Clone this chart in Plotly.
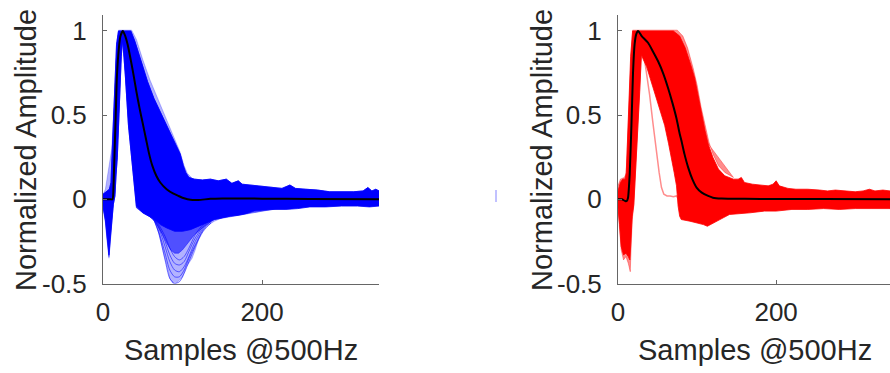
import plotly.graph_objects as go

# ---------------- data ----------------
# Left panel (blue): envelope of the waveform bundle, in samples @500Hz
L_up_outer_x = [0, 3, 5, 7, 9, 10, 11, 12, 14, 16, 18, 19.5, 36, 42, 50, 59, 68, 80, 90, 97, 102, 106, 110]
L_up_outer_y = [0.03, 0.06, 0.12, 0.18, 0.23, 0.25, 0.3, 0.38, 0.6, 0.8, 0.95, 1.005, 1.005, 0.95, 0.83, 0.71, 0.61, 0.47, 0.36, 0.28, 0.2, 0.155, 0.135]
L_up_x = [0, 3, 8, 10, 11.5, 13, 15, 17, 19.5, 35, 40, 48, 56, 64, 74, 84, 92, 97, 101, 104, 108, 115, 125, 135, 145,
          155, 162, 170, 175, 185, 195, 205, 215, 225, 235, 242, 255, 270, 285, 300, 315, 327, 333, 338, 343, 347]
L_up_y = [0.03, 0.04, 0.06, 0.1, 0.3, 0.5, 0.75, 0.92, 1.0, 1.0, 0.94, 0.82, 0.7, 0.6, 0.5, 0.4, 0.32, 0.27, 0.2, 0.16, 0.13, 0.12, 0.115, 0.12, 0.11,
          0.12, 0.095, 0.11, 0.09, 0.085, 0.08, 0.075, 0.07, 0.065, 0.085, 0.065, 0.06, 0.055, 0.045, 0.045, 0.045, 0.05, 0.07, 0.05, 0.06, 0.05]
L_lo_x = [0, 3, 5, 7.5, 9, 11, 13, 15, 16.5, 18, 20, 21.5, 23, 24.7, 26, 28, 32, 36, 38, 42, 50, 58, 65, 72, 80, 90, 100,
          110, 120, 130, 140, 150, 160, 170, 180, 190, 200, 215, 230, 245, 260, 280, 300, 320, 335, 347]
L_lo_y = [-0.04, -0.12, -0.22, -0.33, -0.24, -0.12, -0.03, 0.02, 0.15, 0.25, 0.45, 0.64, 0.85, 0.95, 0.86, 0.74, 0.44, 0.25, 0.15, -0.04, -0.08, -0.1, -0.12, -0.15, -0.17, -0.19, -0.19,
          -0.18, -0.16, -0.14, -0.12, -0.11, -0.1, -0.095, -0.085, -0.07, -0.065, -0.06, -0.06, -0.055, -0.045, -0.045, -0.04, -0.04, -0.045, -0.04]
L_lo_mid_x = [0, 3, 5, 7.5, 9, 11, 13, 15, 16.5, 18, 20, 21.5, 23, 24.7, 26, 28, 32, 36, 38, 42, 50, 58, 65, 70, 75, 80,
              85, 90, 95, 100, 105, 110, 115, 120, 130, 140, 150]
L_lo_mid_y = [-0.05, -0.13, -0.23, -0.34, -0.25, -0.13, -0.03, 0.02, 0.15, 0.25, 0.45, 0.64, 0.85, 0.95, 0.86, 0.74, 0.44, 0.25, 0.15, -0.05, -0.08, -0.1, -0.13, -0.17, -0.21, -0.26,
              -0.3, -0.32, -0.32, -0.3, -0.27, -0.24, -0.21, -0.19, -0.15, -0.12, -0.11]
L_lo_outer_x = [0, 3, 5, 7.5, 9, 11, 13, 15, 16.5, 18, 20, 21.5, 23, 24.7, 26, 28, 32, 36, 38, 42, 50, 58, 65, 70, 75, 80, 84,
                88, 92, 96, 100, 105, 112, 116, 120, 124, 130, 140, 150]
L_lo_outer_y = [-0.05, -0.14, -0.24, -0.35, -0.26, -0.14, -0.03, 0.02, 0.15, 0.25, 0.45, 0.64, 0.85, 0.95, 0.86, 0.74, 0.44, 0.25, 0.15, -0.05, -0.08, -0.1, -0.13, -0.2, -0.3, -0.39, -0.47,
                -0.5, -0.5, -0.48, -0.46, -0.4, -0.35, -0.3, -0.24, -0.2, -0.16, -0.13, -0.11]
# individual deep traces visible in the lower "bowl" of the left panel
L_bowl_x = [62, 70, 78, 84, 90, 96, 102, 108, 116, 126, 136]
L_bowl_y = [
    [-0.1, -0.2, -0.36, -0.47, -0.5, -0.49, -0.44, -0.37, -0.28, -0.19, -0.14],
    [-0.1, -0.19, -0.32, -0.42, -0.46, -0.46, -0.42, -0.35, -0.27, -0.18, -0.13],
    [-0.1, -0.17, -0.28, -0.37, -0.42, -0.43, -0.4, -0.34, -0.25, -0.17, -0.13],
    [-0.1, -0.16, -0.25, -0.33, -0.38, -0.39, -0.37, -0.31, -0.23, -0.16, -0.12],
    [-0.1, -0.15, -0.22, -0.29, -0.34, -0.36, -0.34, -0.29, -0.21, -0.15, -0.12],
]
L_mean_x = [0, 10, 12, 13, 14, 16, 17.5, 20, 22, 25, 28, 31, 34, 38, 42, 46, 50, 54, 58, 62, 67, 72, 80, 88, 95, 102,
            110, 120, 135, 150, 200, 260, 347]
L_mean_y = [0, 0, 0.0, 0.05, 0.2, 0.5, 0.73, 0.9, 0.97, 1.0, 0.97, 0.92, 0.85, 0.75, 0.64, 0.54, 0.45, 0.36, 0.27, 0.2, 0.14, 0.1, 0.06, 0.035, 0.02, 0.006,
            -0.003, -0.004, 0.003, 0.005, 0.004, 0.002, 0.0]

# Right panel (red)
R_up_outer_x = [0, 3, 8, 10, 11, 12.7, 15, 17, 18.5, 75, 82, 88, 95, 100, 105, 110, 115, 120, 127, 135, 146]
R_up_outer_y = [0.08, 0.12, 0.13, 0.15, 0.22, 0.44, 0.72, 0.9, 1.005, 1.005, 0.97, 0.9, 0.78, 0.68, 0.55, 0.44, 0.34, 0.27, 0.2, 0.16, 0.13]
R_up_x = [0, 3, 6, 9, 10.5, 12, 14, 16, 18.5, 70, 78, 85, 92, 97, 102, 106, 110, 114, 120, 127, 135, 146, 152, 156, 160,
          170, 180, 190, 196, 200, 204, 215, 225, 240, 255, 265, 275, 290, 300, 310, 318, 325, 335, 344]
R_up_y = [0.05, 0.1, 0.12, 0.12, 0.16, 0.35, 0.62, 0.85, 1.0, 1.0, 0.97, 0.9, 0.8, 0.72, 0.6, 0.5, 0.41, 0.33, 0.25, 0.18, 0.14, 0.12, 0.12, 0.13, 0.1,
          0.09, 0.085, 0.08, 0.09, 0.11, 0.08, 0.065, 0.06, 0.06, 0.055, 0.05, 0.055, 0.05, 0.045, 0.05, 0.06, 0.05, 0.055, 0.05]
R_lo_x = [0, 2, 4, 7, 10, 13, 15, 16.5, 18, 20, 21, 23.3, 25.5, 27.5, 29.6, 32, 36, 41, 46.5, 52, 59, 64, 67.7, 71, 74, 76, 78,
          80, 91, 100, 108, 113, 118, 125, 133, 141, 150, 167, 185, 200, 220, 240, 260, 280, 300, 320, 344]
R_lo_y = [-0.05, -0.15, -0.28, -0.33, -0.32, -0.34, -0.36, -0.25, -0.1, -0.03, 0.05, 0.25, 0.47, 0.64, 0.86, 0.83, 0.79, 0.72, 0.64, 0.55, 0.44, 0.33, 0.25, 0.16, 0.08, -0.04, -0.1,
          -0.12, -0.13, -0.14, -0.15, -0.16, -0.15, -0.13, -0.11, -0.09, -0.085, -0.08, -0.07, -0.07, -0.06, -0.06, -0.055, -0.06, -0.055, -0.055, -0.055]
R_lo_outer_x = [0, 2, 4, 7, 10, 13, 15.5, 16.5, 18, 20, 21, 23.3, 25.5, 27.5, 29.6]
R_lo_outer_y = [-0.06, -0.18, -0.3, -0.36, -0.34, -0.38, -0.43, -0.3, -0.12, -0.04, 0.05, 0.25, 0.47, 0.64, 0.86]
R_out_x = [26, 28, 32, 36, 40, 44, 48, 52, 55, 58, 62, 66, 70, 74, 77]
R_out_y = [0.95, 0.97, 0.88, 0.76, 0.62, 0.46, 0.3, 0.16, 0.07, 0.03, 0.02, 0.02, 0.015, 0.02, 0.0]
R_mean_x = [0, 5, 9, 11, 12.7, 13.8, 14.8, 17, 19, 21, 23, 25.4, 30, 38, 44, 50.7, 57, 63.4, 69, 74, 78, 80.4, 84, 88.7, 94,
            99.4, 106, 114, 120, 131, 160, 200, 260, 344]
R_mean_y = [0, 0, -0.01, -0.01, 0.01, 0.07, 0.15, 0.44, 0.75, 0.92, 0.98, 1.0, 0.97, 0.93, 0.88, 0.82, 0.75, 0.66, 0.57, 0.48, 0.39, 0.345, 0.27, 0.19, 0.12,
            0.07, 0.04, 0.02, 0.01, 0.005, 0.003, 0.002, 0.002, 0.0]

x_ticks = [0, 200]
y_ticks = [-0.5, 0, 0.5, 1]
y_tick_text = ["-0.5", "0", "0.5", "1"]
x_title = "Samples @500Hz"
y_title = "Normalized Amplitude"

# ---------------- figure ----------------
FONT = "Liberation Sans, Arial, Helvetica, sans-serif"
TXT = "#262626"
AX = "#666666"


def band(xu, yu, xl, yl, color, xa, ya):
    return go.Scatter(x=list(xu) + list(xl)[::-1], y=list(yu) + list(yl)[::-1],
                      mode="lines", fill="toself", fillcolor=color,
                      line=dict(width=0.8, color=color), hoverinfo="skip",
                      showlegend=False, xaxis=xa, yaxis=ya)


fig = go.Figure()
# left panel
fig.add_trace(band(L_up_outer_x, L_up_outer_y, L_lo_outer_x, L_lo_outer_y, "rgba(0,0,255,0.3)", "x", "y"))
fig.add_trace(band(L_up_x, L_up_y, L_lo_mid_x, L_lo_mid_y, "rgba(0,0,255,0.55)", "x", "y"))
for yb in L_bowl_y:
    fig.add_trace(go.Scatter(x=L_bowl_x, y=yb, mode="lines",
                             line=dict(color="rgba(0,0,255,0.55)", width=1, shape="spline", smoothing=0.8),
                             hoverinfo="skip", showlegend=False, xaxis="x", yaxis="y"))
fig.add_trace(band(L_up_x, L_up_y, L_lo_x, L_lo_y, "rgba(0,0,255,1)", "x", "y"))
fig.add_trace(go.Scatter(x=L_mean_x, y=L_mean_y, mode="lines", line=dict(color="black", width=2, shape="spline", smoothing=0.6),
                         showlegend=False, xaxis="x", yaxis="y"))
# right panel
fig.add_trace(band(R_up_outer_x, R_up_outer_y, R_lo_outer_x, R_lo_outer_y, "rgba(255,0,0,0.45)", "x2", "y2"))
fig.add_trace(go.Scatter(x=R_out_x, y=R_out_y, mode="lines", line=dict(color="rgba(255,0,0,0.45)", width=1.5),
                         showlegend=False, xaxis="x2", yaxis="y2"))
fig.add_trace(band(R_up_x, R_up_y, R_lo_x, R_lo_y, "rgba(255,0,0,1)", "x2", "y2"))
fig.add_trace(go.Scatter(x=R_mean_x, y=R_mean_y, mode="lines", line=dict(color="black", width=2, shape="spline", smoothing=0.6),
                         showlegend=False, xaxis="x2", yaxis="y2"))

W, H = 890, 373
xdom1 = [103 / W, 379 / W]
xdom2 = [618 / W, 1.0]
ydom = [(H - 283.5) / H, (H - 15) / H]

common_x = dict(showline=True, linecolor=AX, linewidth=1, ticks="inside", ticklen=4, tickcolor=AX,
                showgrid=False, zeroline=False, tickvals=x_ticks, ticktext=[str(v) for v in x_ticks],
                tickfont=dict(family=FONT, size=26, color=TXT), ticklabelstandoff=5, automargin=False)
common_y = dict(showline=True, linecolor=AX, linewidth=1, ticks="inside", ticklen=4, tickcolor=AX,
                showgrid=False, zeroline=False, tickvals=y_ticks, ticktext=y_tick_text, range=[-0.5, 1.095],
                tickfont=dict(family=FONT, size=26, color=TXT), ticklabelstandoff=10, automargin=False)

fig.update_layout(
    template="none",
    width=W, height=H, margin=dict(l=0, r=0, t=0, b=0, pad=0), autosize=False,
    paper_bgcolor="white", plot_bgcolor="white",
    xaxis=dict(domain=xdom1, range=[0, 347], anchor="y", **common_x),
    yaxis=dict(domain=ydom, anchor="x", **common_y),
    xaxis2=dict(domain=xdom2, range=[0, 344], anchor="y2", **common_x),
    yaxis2=dict(domain=ydom, anchor="x2", **common_y),
    showlegend=False,
)

ann_font = dict(family=FONT, size=29, color=TXT)
for xc in [(103 + 379) / 2, (618 + 892) / 2]:
    fig.add_annotation(x=xc / W, y=(H - 350) / H, xref="paper", yref="paper", text=x_title,
                       showarrow=False, xanchor="center", yanchor="middle", font=ann_font)
for xc in [26, 542]:
    fig.add_annotation(x=xc / W, y=(H - 150) / H, xref="paper", yref="paper", text=y_title, textangle=-90,
                       showarrow=False, xanchor="center", yanchor="middle", font=ann_font)

# small stray mark visible in the original figure
fig.add_shape(type="line", xref="paper", yref="paper", x0=496 / W, x1=496 / W, y0=(H - 202) / H, y1=(H - 190) / H,
              line=dict(color="rgba(80,80,255,0.7)", width=1))

fig.write_html("out.html", config={"responsive": False},
               post_script="document.body.style.margin='0';document.body.style.overflow='hidden';")
